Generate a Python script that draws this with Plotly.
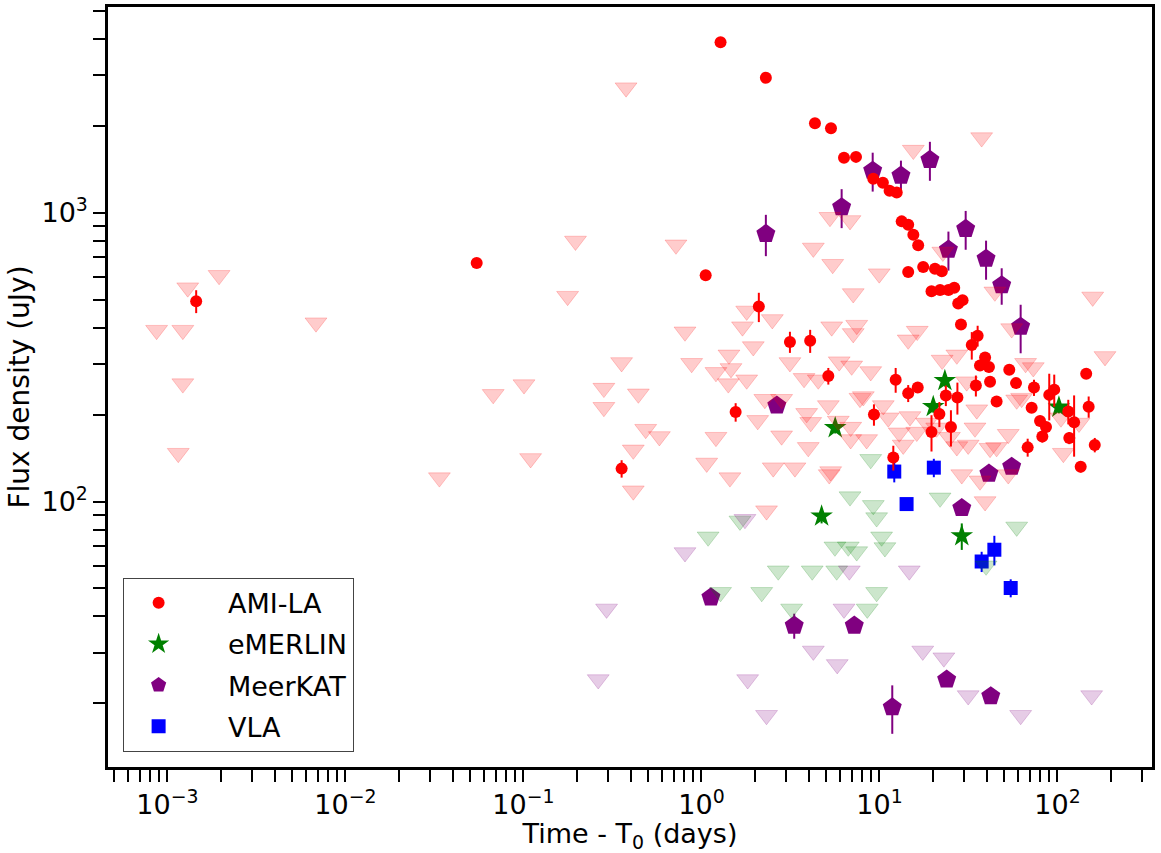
import plotly.graph_objects as go

# ---------------- AMI-LA ----------------
ami_t = [0.00145, 0.0546, 0.356, 1.056, 1.28, 2.30, 4.34, 5.34, 6.32, 7.38,
         9.23, 10.45, 11.4, 12.5, 13.33, 14.5, 15.5, 16.5, 14.5, 17.6,
         20.5, 22.4, 19.6, 21.9, 24.4, 26.3, 27.7, 29.3, 28.7, 35.6,
         33.0, 39.2, 36.7, 41.2, 53.6, 145, 12.33, 14.5, 16.4, 23.6,
         27.4, 34.8, 41.8, 58.5, 73.8, 45.5, 89.9, 95.9, 71.6, 149.7,
         79.8, 86.2, 115, 124, 116.5, 82.2, 68.0, 162, 135, 9.31,
         21.7, 25.2, 19.6, 11.96, 2.10, 3.14, 4.08, 5.16, 1.556]
ami_f = [494, 670, 130, 607, 3890, 2930, 2040, 1960, 1550, 1560,
         1310, 1270, 1190, 1175, 933, 908, 838, 771, 623, 649,
         640, 627, 535, 540, 540, 550, 485, 498, 410, 375,
         348, 315, 296, 292, 286, 277, 264, 237, 248, 233,
         229, 252, 260, 257, 248, 222, 234, 244, 211, 213,
         190, 181, 205, 188, 166, 168, 154, 157, 132, 200,
         201, 181, 174, 142, 473, 357, 360, 272, 204]
ami_err = [45, 20, 9, 15, 80, 70, 50, 45, 35, 35,
           30, 30, 30, 30, 25, 25, 20, 20, 15, 15,
           15, 15, 15, 15, 15, 15, 15, 15, 12, 31,
           38, 12, 12, 12, 10, 10, 26, 16, 8, 19,
           29, 21, 8, 8, 16, 8, 43, 31, 8, 18,
           8, 8, 20, 45, 8, 8, 11, 9, 6, 17,
           20, 26, 25, 14, 55, 30, 33, 18, 15]

ami_lim_t = [0.0013, 0.00195, 0.000869, 0.00122, 0.00683, 0.00122, 0.00115, 0.0337, 0.0676, 0.1007,
             0.1097, 0.177, 0.196, 0.377, 0.719, 4.25, 5.46, 9.97, 7.12, 5.27,
             6.83, 37.5, 15.5, 22.7, 44.5, 157.7, 1.795, 2.50, 1.70, 0.808,
             5.39, 7.45, 7.12, 1.954, 0.356, 0.881, 1.427, 3.14, 5.94, 6.98,
             8.93, 1.206, 1.465, 1.415, 1.795, 3.77, 4.53, 0.283, 0.283, 0.442,
             2.27, 2.82, 5.16, 7.77, 8.11, 3.90, 4.11, 2.07, 0.486, 0.580,
             5.87, 6.89, 6.89, 8.47, 2.82, 1.206, 3.98, 0.414, 1.07, 2.53,
             3.35, 5.32, 5.22, 1.445, 0.414, 2.32, 16.3, 14.5, 22.5, 27.2,
             55.3, 184.9, 66.2, 73.1, 10.5, 11.2, 14.84, 12.92, 13.6, 16.2,
             18.4, 20.96, 24.7, 27.2, 31.5, 34.4, 35.2, 30.9, 41.8, 45.5,
             52.9, 59.0, 62.9, 104.6, 107.9, 132.1, 29.0, 36.7, 39.2, 52.9]
ami_lim_f = [550, 607, 392, 392, 416, 256, 147, 121, 235, 254,
             141, 514, 798, 2709, 774, 755, 663, 615, 525, 964,
             940, 1820, 1647, 731, 532, 511, 457, 427, 403, 387,
             403, 408, 382, 344, 303, 301, 322, 303, 305, 295,
             282, 280, 289, 256, 264, 267, 264, 247, 212, 236,
             226, 226, 215, 228, 231, 202, 188, 191, 178, 168,
             190, 181, 164, 164, 169, 167, 154, 151, 136, 131,
             131, 127, 124, 121, 109, 93, 389, 363, 309, 322,
             397, 318, 301, 291, 215, 195, 197, 173, 157, 174,
             187, 180, 167, 155, 157, 180, 208, 260, 153, 154,
             171, 225, 228, 195, 147, 187, 124, 118, 100, 124]

# ---------------- eMERLIN ----------------
emerlin_t = [5.64, 4.73, 23.3, 20.05, 101.9, 29.0]
emerlin_f = [180, 89, 262, 213, 212, 76]
emerlin_err = [8, 5, 12, 10, 10, 8]

emerlin_lim_t = [1.09, 1.645, 2.70, 4.19, 5.75, 2.18, 1.28, 3.21, 6.83, 9.23,
                 9.64, 10.28, 10.73, 5.62, 6.68, 7.45, 9.64, 8.54, 8.93, 21.9,
                 59.0, 39.7]
emerlin_lim_f = [75.5, 85.7, 57.6, 57.6, 57.6, 48.5, 48.5, 42.5, 104, 97,
                 88, 75.5, 69.3, 69.7, 69.7, 67.1, 48.5, 42.5, 140, 103,
                 81.7, 59.9]

# ---------------- MeerKAT ----------------
meerkat_t = [9.16, 13.2, 19.2, 6.13, 2.30, 30.5, 24.4, 39.7, 48.6, 62.1,
             2.65, 41.2, 55.3, 29.0, 1.13, 3.32, 7.22, 23.85, 42.2, 11.8]
meerkat_f = [1398, 1344, 1524, 1045, 845, 879, 745, 693, 561, 403,
             215, 125, 132, 95, 46.6, 37.2, 37.2, 24.2, 21.2, 19.4]
meerkat_err = [215, 170, 235, 161, 138, 135, 115, 107, 81, 77,
               0, 0, 0, 0, 0, 3.7, 0, 0, 0, 3.7]

meerkat_lim_t = [1.755, 0.808, 0.293, 0.263, 1.818, 2.32, 4.25, 5.79, 6.32, 6.77,
                 14.7, 17.5, 23.0, 31.5, 62.1, 155.6]
meerkat_lim_f = [86.8, 66.6, 42.5, 24.2, 24.2, 18.2, 30.4, 27.3, 42.5, 57.6,
                 57.6, 30.4, 28.8, 21.3, 18.2, 21.3]

# ---------------- VLA ----------------
vla_t = [12.11, 20.2, 14.2, 44.2, 37.5, 54.6]
vla_f = [127, 131, 98, 68.1, 62.0, 50.2]
vla_err = [10.5, 9.6, 0, 8, 5, 3.6]

# ---------------- axis ticks ----------------
x_major = [1e-3, 1e-2, 1e-1, 1, 10, 100]
x_major_text = ["10<sup>\u22123</sup>", "10<sup>\u22122</sup>", "10<sup>\u22121</sup>",
                "10<sup>0</sup>", "10<sup>1</sup>", "10<sup>2</sup>"]
x_minor = [5e-4, 6e-4, 7e-4, 8e-4, 9e-4,
           2e-3, 3e-3, 4e-3, 5e-3, 6e-3, 7e-3, 8e-3, 9e-3,
           2e-2, 3e-2, 4e-2, 5e-2, 6e-2, 7e-2, 8e-2, 9e-2,
           0.2, 0.3, 0.4, 0.5, 0.6, 0.7, 0.8, 0.9,
           2, 3, 4, 5, 6, 7, 8, 9,
           20, 30, 40, 50, 60, 70, 80, 90, 200, 300]
y_major = [100, 1000]
y_major_text = ["10<sup>2</sup>", "10<sup>3</sup>"]
y_minor = [20, 30, 40, 50, 60, 70, 80, 90,
           200, 300, 400, 500, 600, 700, 800, 900,
           2000, 3000, 4000, 5000]

RED, GREEN, PURPLE, BLUE = "#ff0000", "#008000", "#800080", "#0000ff"
FONT = "DejaVu Sans"
PAD = "\u00a0" * 4  # gap between legend symbol and label


def faint(c):
    r, g, b = int(c[1:3], 16), int(c[3:5], 16), int(c[5:7], 16)
    return f"rgba({r},{g},{b},0.2)"


def detections(name, t, f, err, color, symbol, size, rank):
    return go.Scatter(
        x=t, y=f, mode="markers", name=PAD + name, legendgroup=name,
        legendrank=rank,
        marker=dict(color=color, symbol=symbol, size=size, line=dict(width=0)),
        error_y=dict(type="data", array=err, symmetric=True, color=color,
                     thickness=2, width=0),
    )


def limits(t, f, color):
    return go.Scatter(
        x=t, y=f, mode="markers", showlegend=False,
        marker=dict(color=faint(color), symbol="triangle-down", size=19,
                    line=dict(color=faint(color), width=1)),
    )


fig = go.Figure()
# drawing order: pentagons at the bottom, circles above them, limits on top
fig.add_trace(detections("MeerKAT", meerkat_t, meerkat_f, meerkat_err, PURPLE, "pentagon", 20, 3))
fig.add_trace(detections("VLA", vla_t, vla_f, vla_err, BLUE, "square", 14, 4))
fig.add_trace(detections("eMERLIN", emerlin_t, emerlin_f, emerlin_err, GREEN, "star", 17, 2))
fig.add_trace(detections("AMI-LA", ami_t, ami_f, ami_err, RED, "circle", 12, 1))
fig.add_trace(limits(ami_lim_t, ami_lim_f, RED))
fig.add_trace(limits(emerlin_lim_t, emerlin_lim_f, GREEN))
fig.add_trace(limits(meerkat_lim_t, meerkat_lim_f, PURPLE))

axis_common = dict(
    showline=True, linecolor="black", linewidth=2.5, mirror=True,
    ticks="outside", ticklen=12, tickwidth=1.8, tickcolor="black",
    showgrid=False, zeroline=False,
    tickfont=dict(family=FONT, size=27, color="black"),
)

fig.update_xaxes(
    type="log", range=[-3.334, 2.531],
    tickvals=x_major + x_minor,
    ticktext=x_major_text + [""] * len(x_minor),
    title=dict(text="Time - T<sub>0</sub> (days)",
               font=dict(family=FONT, size=27, color="black"), standoff=8),
    **axis_common,
)
fig.update_yaxes(
    type="log", range=[1.081, 3.712],
    tickvals=y_major + y_minor,
    ticktext=y_major_text + [""] * len(y_minor),
    title=dict(text="Flux density (uJy)",
               font=dict(family=FONT, size=28, color="black"), standoff=4),
    **axis_common,
)

fig.update_layout(
    width=1161, height=853,
    margin=dict(l=108, r=9, t=4, b=86),
    paper_bgcolor="white", plot_bgcolor="white",
    font=dict(family=FONT, color="black"),
    legend=dict(
        x=0.014, y=0.02, xanchor="left", yanchor="bottom",
        bgcolor="white", bordercolor="#444", borderwidth=1,
        font=dict(family=FONT, size=27, color="black"),
        tracegroupgap=3, itemwidth=60, traceorder="grouped",
    ),
)

fig.write_html("out.html")
